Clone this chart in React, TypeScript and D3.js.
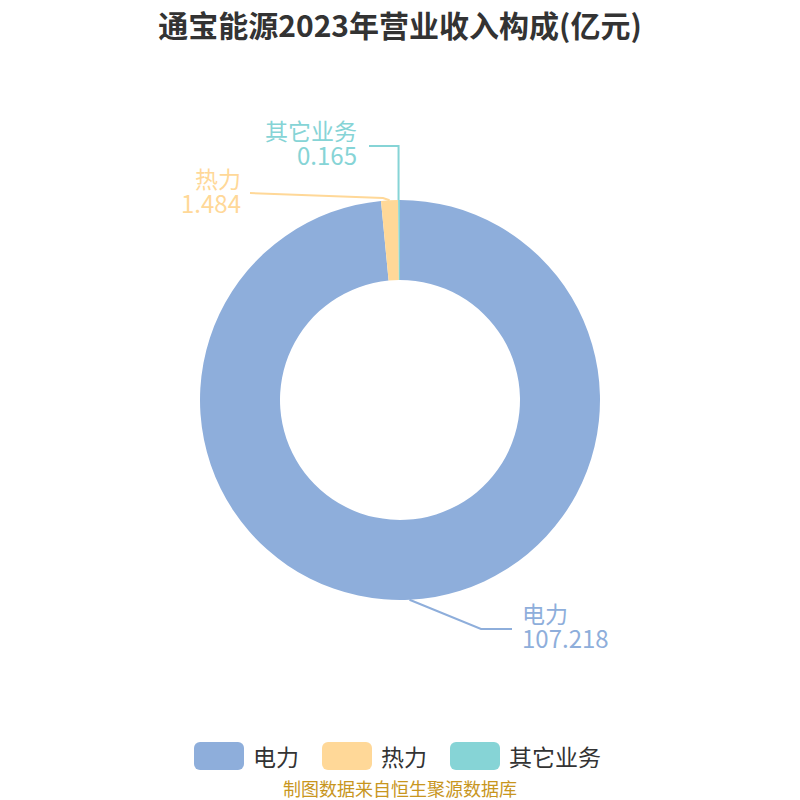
import React from "react";
import * as d3 from "d3";

const categories = ["电力", "热力", "其它业务"];
const values = [107.218, 1.484, 0.165];
const valueLabels = ["107.218", "1.484", "0.165"];
const colors = ["#8eaedb", "#ffd898", "#86d4d6"];

const W = 800, H = 800;
const cx = 400, cy = 400;
const rOuter = 200, rInner = 120;

export default function App() {
  const pie = d3.pie<number>().sort(null).value((d) => d)(values);
  const arc = d3.arc<d3.PieArcDatum<number>>().innerRadius(rInner).outerRadius(rOuter);

  const pt = (a: number, r: number) => [cx + r * Math.sin(a), cy - r * Math.cos(a)];

  const labels = pie.map((p, i) => {
    const mid = (p.startAngle + p.endAngle) / 2;
    const e = pt(mid, rOuter);
    let pts: number[][];
    let anchor: string;
    let tx: number, ny: number;
    if (i === 0) {
      pts = [e, [481, 629], [512, 629]];
      anchor = "start"; tx = 522; ny = 623;
    } else if (i === 1) {
      pts = [e, [383, 198], [250, 193]];
      anchor = "end"; tx = 241; ny = 188;
    } else {
      pts = [[e[0] - 0.5, e[1]], [e[0] - 0.5, 146], [369, 146]];
      anchor = "end"; tx = 357; ny = 140;
    }
    return { pts, anchor, tx, ny };
  });

  const legendX = [194, 322, 450];

  return (
    <svg width={W} height={H} style={{ position: "absolute", left: 0, top: 0, fontFamily: "'Noto Sans CJK SC', 'Noto Sans', sans-serif" }}>
      <rect width={W} height={H} fill="#fff" />
      <text x={400} y={24} textAnchor="middle" dominantBaseline="central" fontSize={30} fontWeight="bold" fill="#333">
        通宝能源2023年营业收入构成(亿元)
      </text>
      {pie.map((p, i) => (
        <path key={i} d={arc(p) as string} transform={`translate(${cx},${cy})`} fill={colors[i]} />
      ))}
      {labels.map((l, i) => (
        <g key={i}>
          <polyline points={l.pts.map((q) => q.join(",")).join(" ")} fill="none" stroke={colors[i]} strokeWidth={2} />
          <text x={l.tx} y={l.ny} textAnchor={l.anchor} fill={colors[i]}>
            <tspan x={l.tx} fontSize={23}>{categories[i]}</tspan>
            <tspan x={l.tx} dy={25} fontSize={24}>{valueLabels[i]}</tspan>
          </text>
        </g>
      ))}
      {categories.map((c, i) => (
        <g key={c}>
          <rect x={legendX[i]} y={742} width={50} height={28} rx={6} fill={colors[i]} />
          <text x={legendX[i] + 59} y={756} dominantBaseline="central" fontSize={23} fill="#333">
            {c}
          </text>
        </g>
      ))}
      <text x={400} y={788} textAnchor="middle" dominantBaseline="central" fontSize={18} fill="#c8961e">
        制图数据来自恒生聚源数据库
      </text>
    </svg>
  );
}
